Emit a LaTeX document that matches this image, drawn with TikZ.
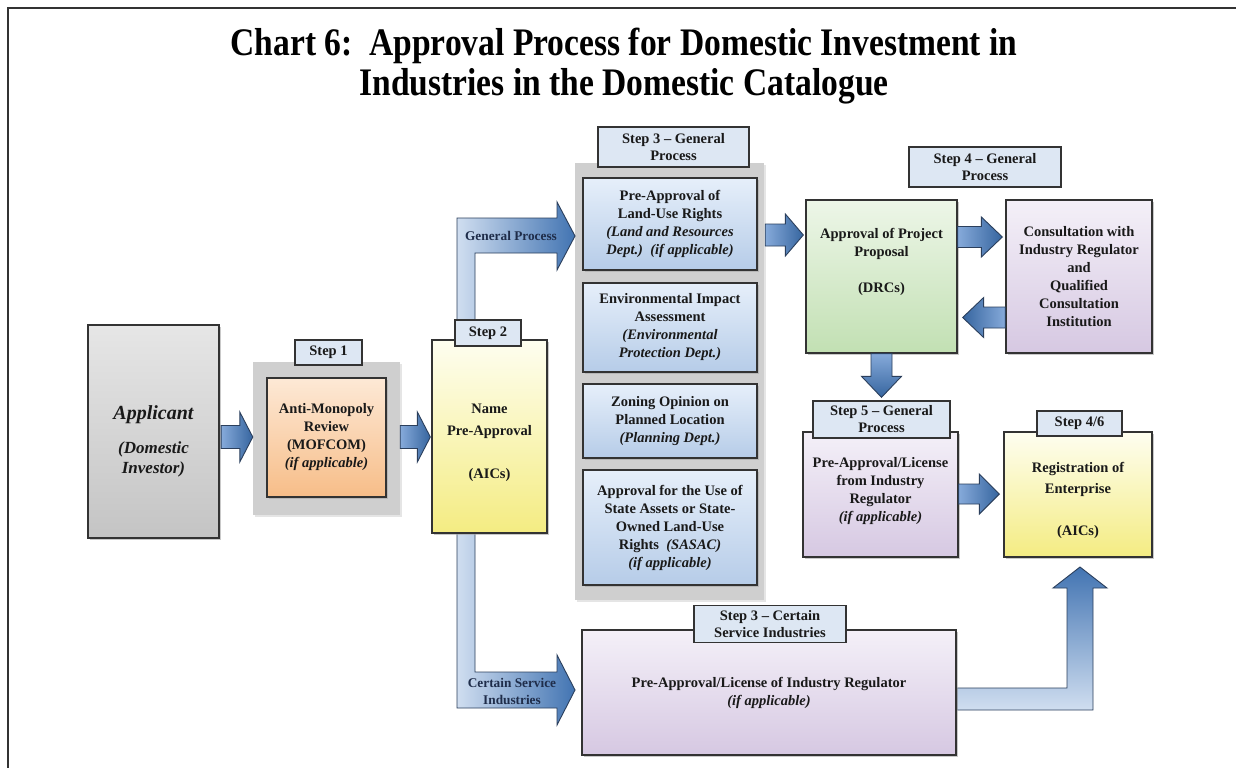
\documentclass[tikz,border=0pt]{standalone}
\usepackage{fontspec}
\usepackage{graphicx}
\setmainfont{Liberation Serif}
\usetikzlibrary{calc,shadows}
\definecolor{bord}{HTML}{333333}
\definecolor{grayT}{HTML}{E6E6E6}
\definecolor{grayB}{HTML}{C4C4C4}
\definecolor{orT}{HTML}{FDE9D6}
\definecolor{orB}{HTML}{F7BD88}
\definecolor{yeT}{HTML}{FEFEF0}
\definecolor{yeB}{HTML}{F4EC82}
\definecolor{blT}{HTML}{E6EFFA}
\definecolor{blB}{HTML}{B6CCE8}
\definecolor{grT}{HTML}{EDF6E8}
\definecolor{grB}{HTML}{C2E0B3}
\definecolor{puT}{HTML}{F4F0F8}
\definecolor{puB}{HTML}{D6C8E2}
\definecolor{tabF}{HTML}{DDE7F3}
\definecolor{bdrop}{HTML}{CFCFCF}
\definecolor{arrB}{HTML}{2B3F5C}
\definecolor{arrL}{HTML}{86AADA}
\definecolor{arrD}{HTML}{36659F}
\definecolor{bendL}{HTML}{D0DEF0}
\definecolor{bendD}{HTML}{4274B2}
\definecolor{lblC}{HTML}{1F2D4A}
\newcommand\mybody{\fontsize{14.5}{18}\selectfont\bfseries}
\newcommand\mytab{\fontsize{14.5}{17}\selectfont\bfseries}
\newcommand\mylbl{\fontsize{13.3}{16.5}\selectfont\bfseries}
\newcommand\mytitle{\fontsize{39}{40}\selectfont\bfseries}
% right-pointing block arrow: style, start point, tip point (x used), shaft half, head half, head length
\newcommand\blockright[6]{\path[#1] let \p1=#2, \p2=#3 in
  (\x1,\y1+#4) -- (\x2-#6,\y1+#4) -- (\x2-#6,\y1+#5) -- (\x2,\y1) -- (\x2-#6,\y1-#5) -- (\x2-#6,\y1-#4) -- (\x1,\y1-#4) -- cycle;}
\newcommand\blockleft[6]{\path[#1] let \p1=#2, \p2=#3 in
  (\x1,\y1+#4) -- (\x2+#6,\y1+#4) -- (\x2+#6,\y1+#5) -- (\x2,\y1) -- (\x2+#6,\y1-#5) -- (\x2+#6,\y1-#4) -- (\x1,\y1-#4) -- cycle;}
\newcommand\blockdown[6]{\path[#1] let \p1=#2, \p2=#3 in
  (\x1+#4,\y1) -- (\x1+#4,\y2+#6) -- (\x1+#5,\y2+#6) -- (\x1,\y2) -- (\x1-#5,\y2+#6) -- (\x1-#4,\y2+#6) -- (\x1-#4,\y1) -- cycle;}
\begin{document}
\begin{tikzpicture}[x=1pt,y=-1pt,
  wh/.style 2 args={minimum width=#1pt, minimum height=#2pt},
  shad/.style={drop shadow={shadow xshift=2pt, shadow yshift=-2pt, fill=black!35, opacity=0.6}},
  boxbase/.style={draw=bord, line width=1.3pt, shad, inner sep=0pt, align=center, font=\mybody, text=black!90},
  graybox/.style={boxbase, top color=grayT, bottom color=grayB},
  orangebox/.style={boxbase, top color=orT, bottom color=orB},
  yellowbox/.style={boxbase, top color=yeT, bottom color=yeB},
  bluebox/.style={boxbase, top color=blT, bottom color=blB},
  greenbox/.style={boxbase, top color=grT, bottom color=grB},
  purplebox/.style={boxbase, top color=puT, bottom color=puB},
  tabbox/.style={draw=bord, line width=1.3pt, fill=tabF, inner sep=0pt, align=center, font=\mytab, text=black!90},
  backdrop/.style={fill=bdrop, inner sep=0pt, drop shadow={shadow xshift=1.5pt, shadow yshift=-1.5pt, fill=black!20}},
  txt/.style={align=center, font=\mybody, text=black!90, inner sep=0pt},
  arrR/.style={draw=arrB, line width=0.9pt, left color=arrL, right color=arrD},
  arrLft/.style={draw=arrB, line width=0.9pt, left color=arrD, right color=arrL},
  arrDn/.style={draw=arrB, line width=0.9pt, top color=arrL, bottom color=arrD},
  bendH/.style={draw=arrB, line width=0.9pt, left color=bendL, right color=bendD},
  bendV/.style={draw=arrB, line width=0.9pt, bottom color=bendL, top color=bendD},
  albl/.style={font=\mylbl, text=lblC, align=center, inner sep=0pt},
  frame/.style={draw=black!80, line width=2.5pt}
]
\useasboundingbox (0,0) rectangle (1236,768);
\fill[white] (0,0) rectangle (1236,768);
\draw[frame] (1236,8) -- (8,8) -- (8,768);

% title
\node[align=center, font=\mytitle, inner sep=0pt] (title) at (624,66)
  {\scalebox{0.86}[1]{Chart 6:\ \ Approval Process for Domestic Investment in}\\
   \scalebox{0.86}[1]{Industries in the Domestic Catalogue}};

% backdrops
\node[backdrop, wh={147}{153}] (s1bg) at (326.5,438.5) {};
\node[backdrop, wh={189}{437}] (s3bg) at (669.5,381.5) {};

% bent arrows (behind boxes)
\path[bendH] (457,340) -- (457,218) -- (557,218) -- (557,202) -- (575,236) -- (557,270) -- (557,253) -- (475,253) -- (475,340) -- cycle;
\path[bendH] (457,533) -- (457,708) -- (557,708) -- (557,725) -- (575,690) -- (557,655) -- (557,672) -- (475,672) -- (475,533) -- cycle;
\path[bendV] (957,688) -- (1067,688) -- (1067,588) -- (1053,588) -- (1080,567) -- (1107,588) -- (1093,588) -- (1093,710) -- (957,710) -- cycle;
\node[albl] (gpl) at (511,236) {General Process};
\node[albl] (csl) at (512,691.5) {Certain Service\\Industries};

% applicant
\node[graybox, wh={131}{213}] (app) at (153.5,431.5) {};
\node[txt, font=\fontsize{17}{20}\selectfont\bfseries\itshape] (appt) at (153.5,441)
  {{\fontsize{20}{24}\selectfont Applicant}\\[14pt](Domestic\\Investor)};

% step 1
\node[orangebox, wh={119}{119}] (amr) at (326.5,437.5)
  {Anti-Monopoly\\Review\\(MOFCOM)\\\textit{(if applicable)}};
\node[tabbox, wh={67}{25}] (s1tab) at (328.5,352.5) {Step 1};

% step 2
\node[yellowbox, wh={115}{193}] (s2) at (489.5,436.5) {};
\node[txt, font=\fontsize{14.5}{21.5}\selectfont\bfseries] (s2t) at (489.5,443)
  {Name\\Pre-Approval\\[21.5pt](AICs)};
\node[tabbox, wh={66}{26}] (s2tab) at (488,333) {Step 2};

% step 3 general
\node[tabbox, wh={151}{40}] (s3tab) at (673.5,147) {Step 3 – General\\Process};
\node[bluebox, wh={174}{92}] (s3a) at (670,224)
  {Pre-Approval of\\Land-Use Rights\\\textit{(Land and Resources}\\\textit{Dept.)\ \ (if applicable)}};
\node[bluebox, wh={174}{89}] (s3b) at (670,327.5)
  {Environmental Impact\\Assessment\\\textit{(Environmental}\\\textit{Protection Dept.)}};
\node[bluebox, wh={174}{74}] (s3c) at (670,421)
  {Zoning Opinion on\\Planned Location\\\textit{(Planning Dept.)}};
\node[bluebox, wh={174}{115}] (s3d) at (670,527.5)
  {Approval for the Use of\\State Assets or State-\\Owned Land-Use\\Rights\ \ \textit{(SASAC)}\\\textit{(if applicable)}};

% step 4
\node[greenbox, wh={151}{153}] (drc) at (881.5,276.5) {};
\node[txt] (drct) at (881.5,262) {Approval of Project\\Proposal\\[18pt](DRCs)};
\node[tabbox, wh={152}{40}] (s4tab) at (985,167) {Step 4 – General\\Process};
\node[purplebox, wh={146}{153}] (cons) at (1079,276.5)
  {Consultation with\\Industry Regulator\\and\\Qualified\\Consultation\\Institution};

% step 5
\node[purplebox, wh={155}{125}] (s5) at (880.5,494.5) {};
\node[txt] (s5t) at (880.5,491) {Pre-Approval/License\\from Industry\\Regulator\\\textit{(if applicable)}};
\node[tabbox, wh={137}{37}] (s5tab) at (881.5,419.5) {Step 5 – General\\Process};

% registration
\node[yellowbox, wh={148}{125}] (reg) at (1078,494.5) {};
\node[txt, font=\fontsize{14.5}{21}\selectfont\bfseries] (regt) at (1078,500) {Registration of\\Enterprise\\[21pt](AICs)};
\node[tabbox, wh={85}{25}] (regtab) at (1079.5,423.5) {Step 4/6};

% step 3 certain service
\node[purplebox, wh={374}{125}] (csi) at (769,692.5)
  {Pre-Approval/License of Industry Regulator\\\textit{(if applicable)}};
\node[tabbox, wh={152}{37}] (csitab) at (770,624) {Step 3 – Certain\\Service Industries};

% straight block arrows
\blockright{arrR}{($(app.east)+(1.5,5.5)$)}{(s1bg.west)}{11.5pt}{25pt}{13pt}
\blockright{arrR}{($(s1bg.east)+(0,-1.5)$)}{($(s2.west)+(-1,0)$)}{11.5pt}{25pt}{13pt}
\blockright{arrR}{($(s3bg.east |- s3a.center)+(1,11)$)}{($(drc.west)+(-2,0)$)}{11pt}{21pt}{18pt}
\blockright{arrR}{($(drc.east)+(0,-39.5)$)}{($(cons.west)+(-3,0)$)}{10.5pt}{20pt}{21pt}
\blockleft{arrLft}{($(cons.west)+(0,41)$)}{($(drc.east)+(5,0)$)}{10.5pt}{20pt}{21pt}
\blockdown{arrDn}{(drc.south)}{($(s5tab.north)+(0,-3)$)}{10.5pt}{20pt}{21pt}
\blockright{arrR}{($(s5.east)+(0,-0.5)$)}{($(reg.west)+(-4,0)$)}{10pt}{20pt}{20pt}
\end{tikzpicture}
\end{document}
